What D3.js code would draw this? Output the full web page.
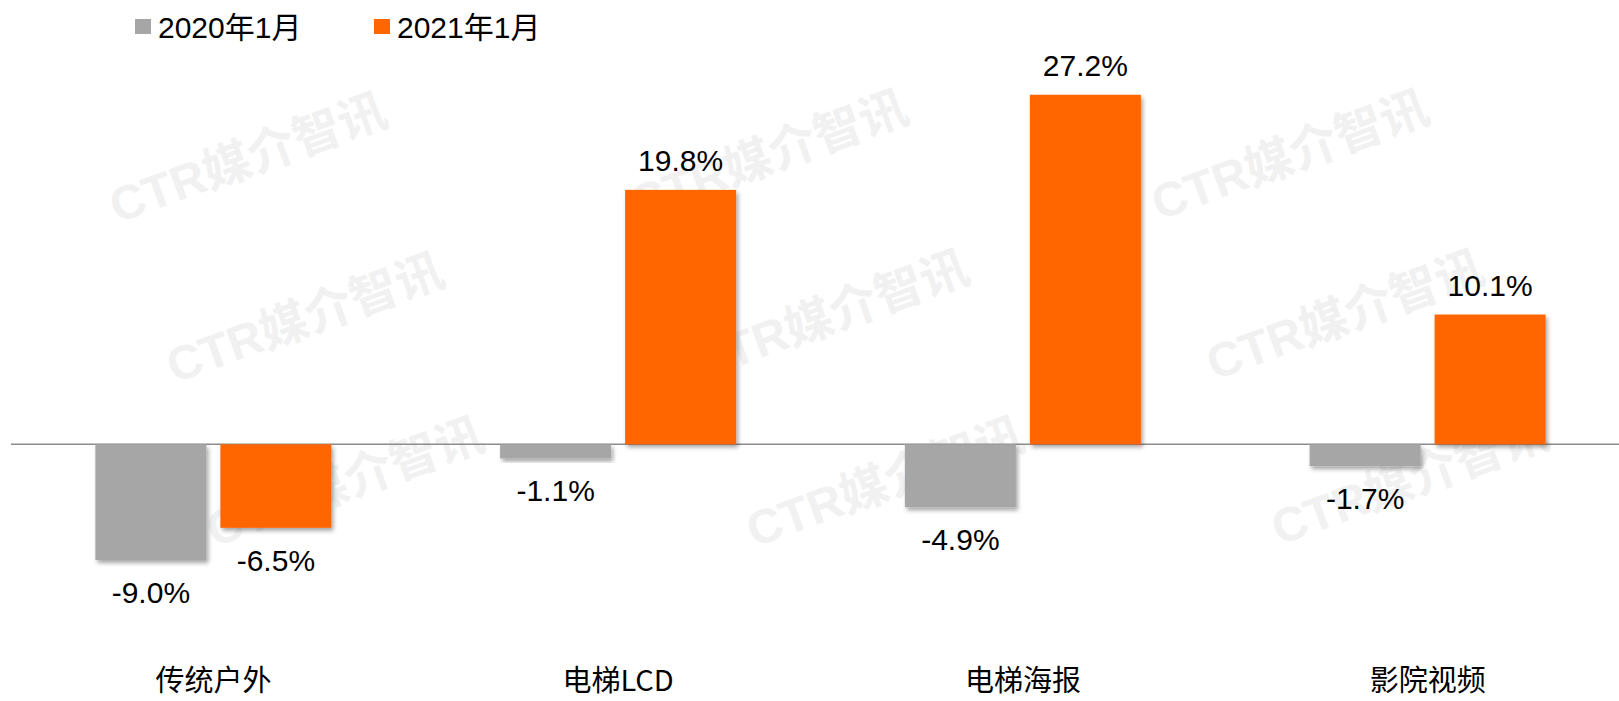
<!DOCTYPE html>
<html>
<head>
<meta charset="utf-8">
<script src="https://cdn.jsdelivr.net/npm/d3@7"></script>
<style>
  body { margin: 0; background: #fff; }
  svg { display: block; font-family: "Liberation Sans", Arial, "Noto Sans CJK SC", sans-serif; }
</style>
</head>
<body>
<div id="chart"></div>
<script>
// data
var categories = ["传统户外", "电梯LCD", "电梯海报", "影院视频"];
var seriesNames = ["2020年1月", "2021年1月"];
var values2020 = [-9.0, -1.1, -4.9, -1.7];
var values2021 = [-6.5, 19.8, 27.2, 10.1];
var seriesColors = ["#a6a6a6", "#ff6600"];
var watermarkText = "CTR媒介智讯";

var width = 1619, height = 701;

var svg = d3.select("#chart").append("svg")
    .attr("width", width)
    .attr("height", height);

var defs = svg.append("defs");
defs.append("filter")
    .attr("id", "shadow")
    .attr("x", "-10%").attr("y", "-10%")
    .attr("width", "130%").attr("height", "140%")
  .append("feDropShadow")
    .attr("dx", 2).attr("dy", 3)
    .attr("stdDeviation", 2)
    .attr("flood-color", "#000")
    .attr("flood-opacity", 0.35);

// watermark
var wmPos = [[248, 158], [769, 155], [1290, 155],
             [305, 318], [830, 315], [1345, 315],
             [345, 482], [885, 482], [1410, 480]];
svg.append("g").selectAll("text")
    .data(wmPos)
    .enter().append("text")
    .attr("transform", function(d) { return "translate(" + d[0] + "," + d[1] + ") rotate(-20)"; })
    .attr("text-anchor", "middle")
    .attr("dy", "0.35em")
    .style("font-size", "48px")
    .style("font-weight", "bold")
    .style("fill", "#f1f1f1")
    .text(watermarkText);

// scales
var x0 = d3.scaleBand()
    .domain(categories)
    .range([11, 1630])
    .padding(0);

var x1 = d3.scaleBand()
    .domain(seriesNames)
    .range([0, 236])
    .paddingInner(0.112)
    .paddingOuter(0);

var y = d3.scaleLinear()
    .domain([-10, 30])
    .range([572.8, 58.8]);

var data = [];
categories.forEach(function(c, i) {
  data.push({cat: c, series: seriesNames[0], value: values2020[i], color: seriesColors[0]});
  data.push({cat: c, series: seriesNames[1], value: values2021[i], color: seriesColors[1]});
});

function barX(d) {
  return x0(d.cat) + (x0.bandwidth() - 236) / 2 + x1(d.series);
}

// zero line
svg.append("line")
    .attr("x1", 11).attr("x2", width)
    .attr("y1", y(0)).attr("y2", y(0))
    .attr("stroke", "#8c8c8c")
    .attr("stroke-width", 1.5);

// bars
svg.append("g").selectAll("rect")
    .data(data)
    .enter().append("rect")
    .attr("x", barX)
    .attr("width", x1.bandwidth())
    .attr("y", function(d) { return y(Math.max(0, d.value)); })
    .attr("height", function(d) { return Math.abs(y(d.value) - y(0)); })
    .attr("fill", function(d) { return d.color; })
    .attr("filter", "url(#shadow)");

// value labels
svg.append("g").selectAll("text")
    .data(data)
    .enter().append("text")
    .attr("x", function(d) { return barX(d) + x1.bandwidth() / 2; })
    .attr("y", function(d) { return d.value >= 0 ? y(d.value) - 19 : y(d.value) + 43; })
    .attr("text-anchor", "middle")
    .style("font-size", "30px")
    .style("fill", "#000")
    .text(function(d) { return d.value.toFixed(1) + "%"; });

// category axis
var xAxis = d3.axisBottom(x0).tickSize(0).tickPadding(0);
var gx = svg.append("g")
    .attr("transform", "translate(0,691)")
    .call(xAxis);
gx.select(".domain").remove();
gx.selectAll(".tick text")
    .attr("dy", 0)
    .attr("y", 0)
    .style("font-size", "29px")
    .style("font-family", "\"Noto Sans CJK SC\", \"Liberation Sans\", sans-serif")
    .style("fill", "#000");

// legend
var legendX = [135, 374];
var legend = svg.append("g").selectAll("g")
    .data(seriesNames)
    .enter().append("g")
    .attr("transform", function(d, i) { return "translate(" + legendX[i] + ",0)"; });
legend.append("rect")
    .attr("x", 0).attr("y", 19)
    .attr("width", 16).attr("height", 15)
    .attr("fill", function(d, i) { return seriesColors[i]; });
legend.append("text")
    .attr("x", 23).attr("y", 38)
    .style("font-size", "30px")
    .style("fill", "#000")
    .text(function(d) { return d; });
</script>
</body>
</html>
